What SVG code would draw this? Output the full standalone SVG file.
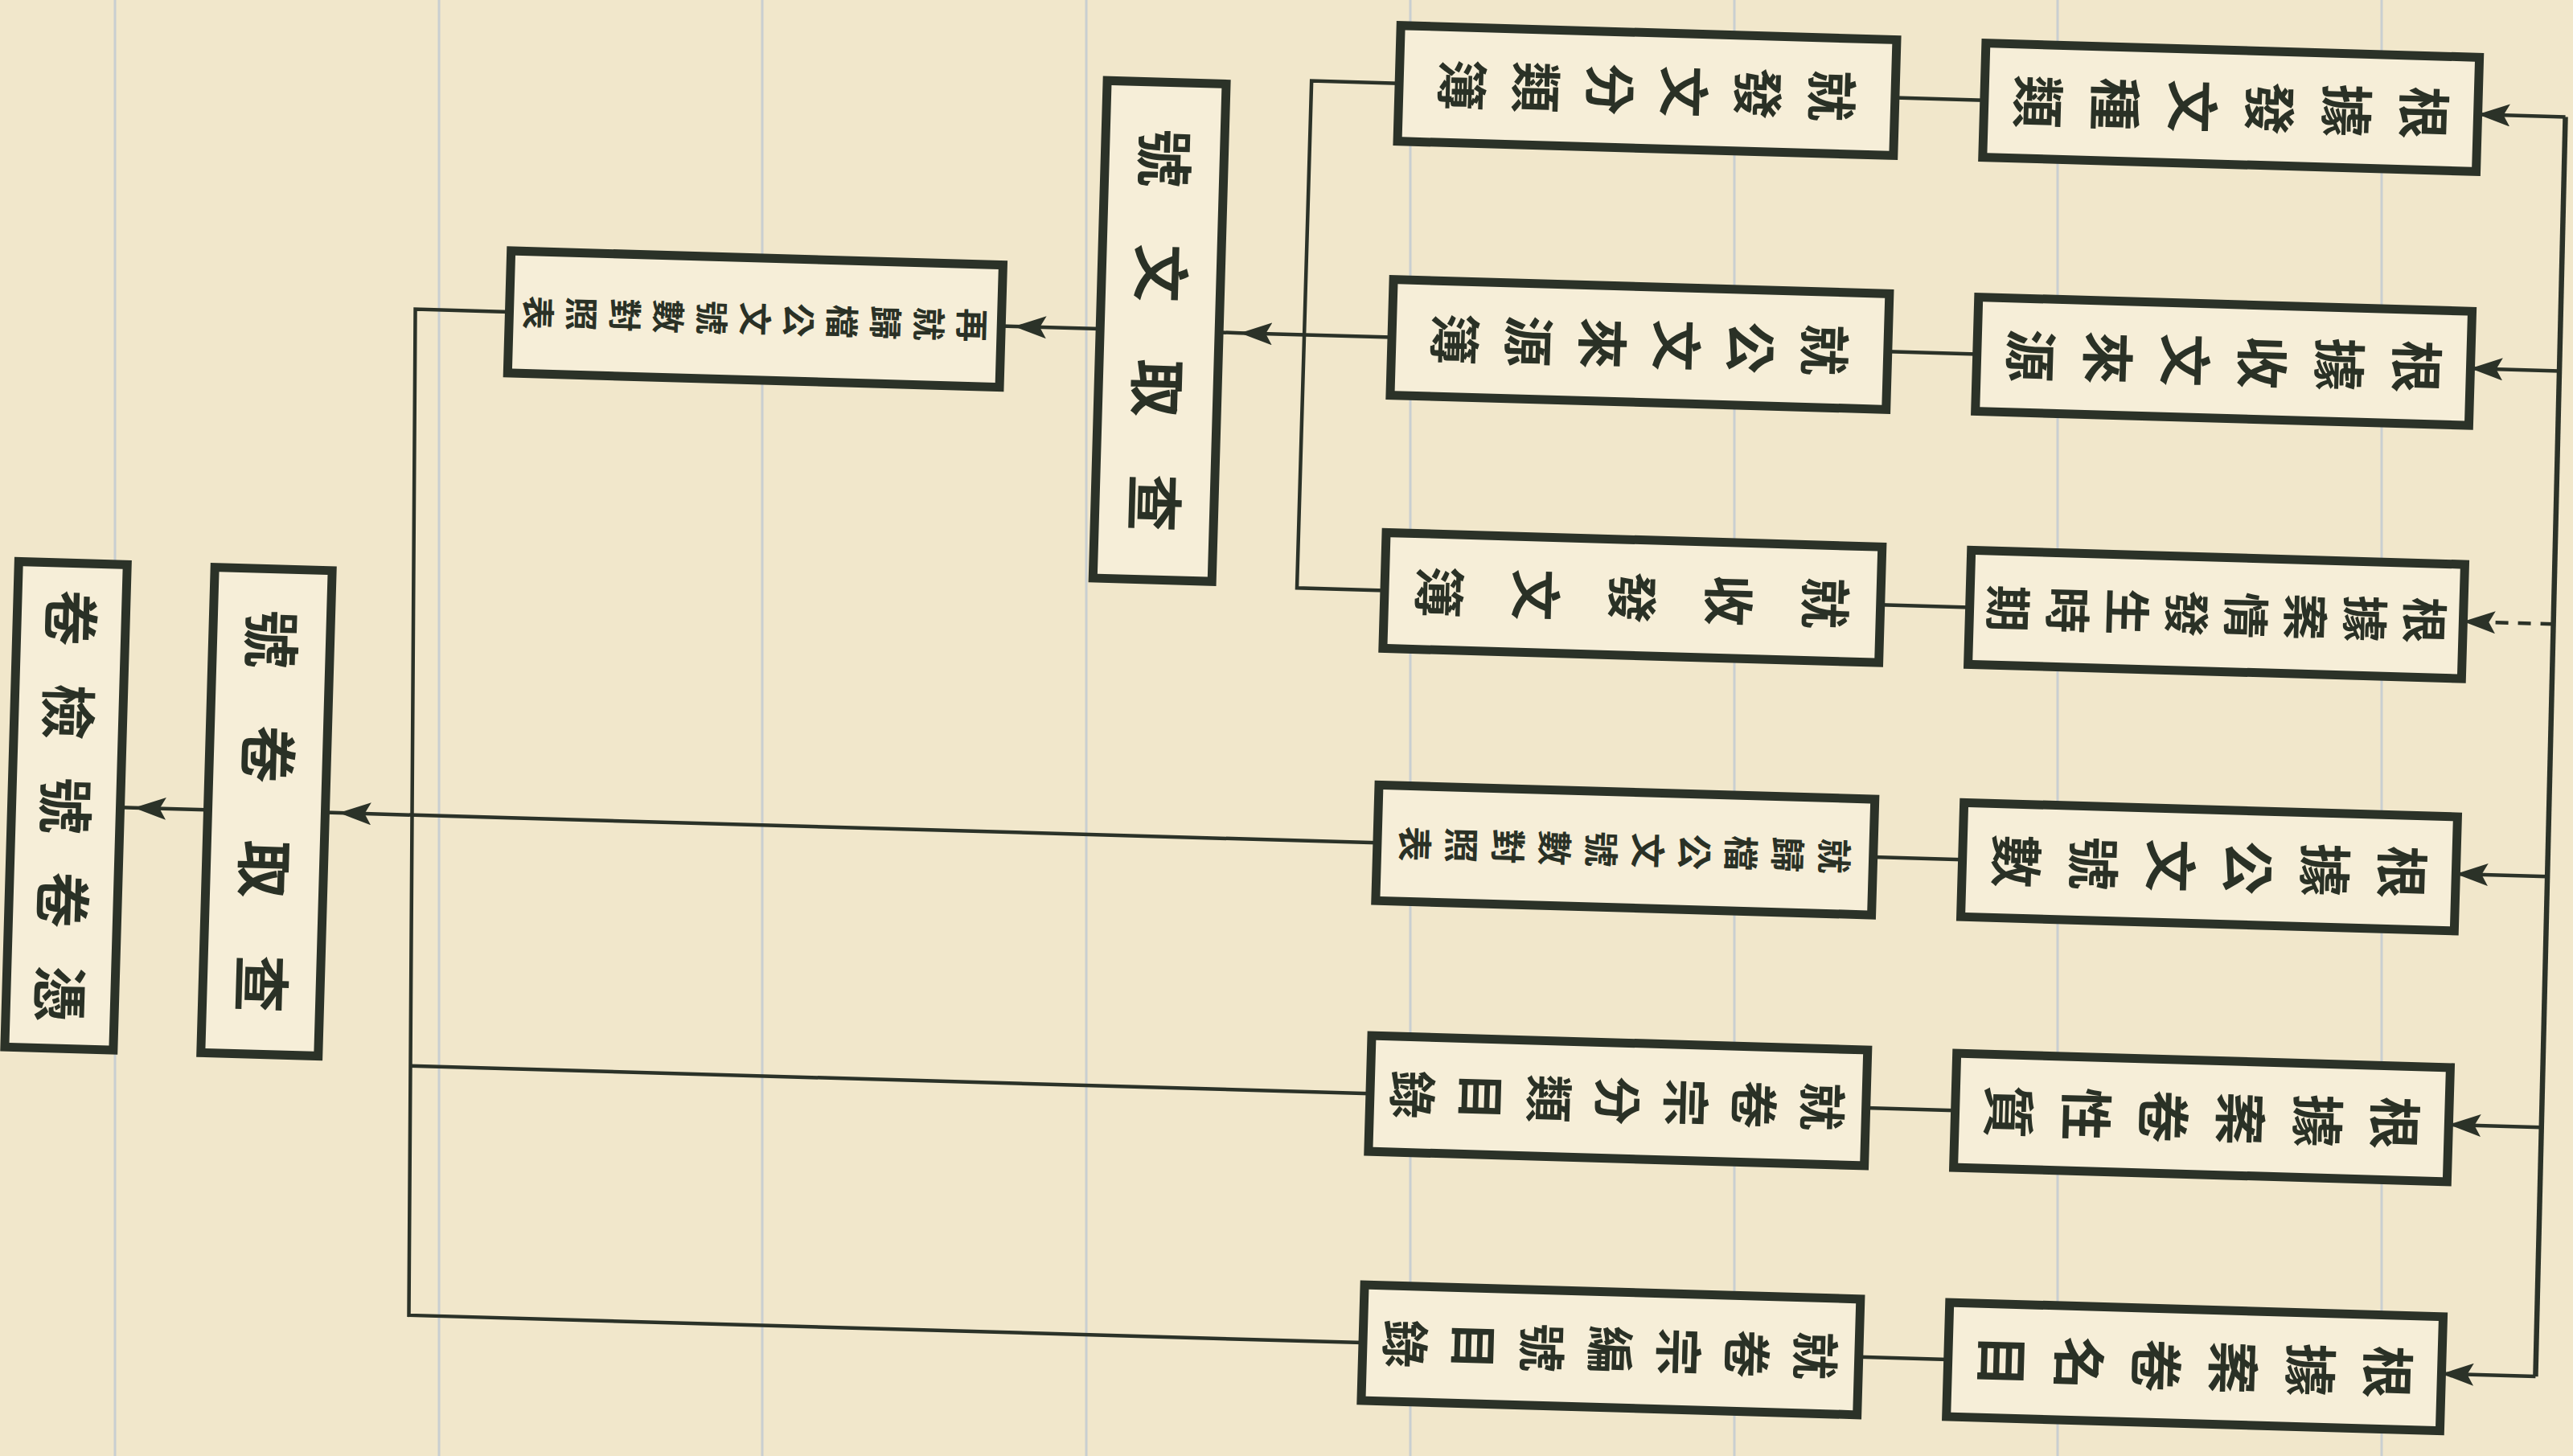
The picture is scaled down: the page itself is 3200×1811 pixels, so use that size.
<svg xmlns="http://www.w3.org/2000/svg" width="3200" height="1811" viewBox="0 0 3200 1811">
<style>
.box{fill:#f6eed8;stroke:#2b3228;stroke-width:11}
.ln{fill:none;stroke:#2b3228;stroke-width:4.5}
.trunk{fill:none;stroke:#2b3228;stroke-width:6.5}
.dash{stroke-dasharray:16 12}
.t{font-family:"Noto Sans CJK TC","Noto Sans CJK SC",sans-serif;font-weight:700;fill:#2a3126}
.rule{stroke:#a9bcd6;stroke-width:3;opacity:0.55}
</style>
<defs>
<marker id="ah" viewBox="0 0 40 28" refX="40" refY="14" markerWidth="40" markerHeight="28" markerUnits="userSpaceOnUse" orient="auto">
<path d="M0,0 L40,14 L0,28 L8,14 Z" fill="#2b3228"/>
</marker>
</defs>
<rect x="0" y="0" width="3200" height="1811" fill="#f1e7cb"/>
<g id="ruling">
<line class="rule" x1="143" y1="0" x2="143" y2="1811"/>
<line class="rule" x1="546" y1="0" x2="546" y2="1811"/>
<line class="rule" x1="948" y1="0" x2="948" y2="1811"/>
<line class="rule" x1="1351" y1="0" x2="1351" y2="1811"/>
<line class="rule" x1="1754" y1="0" x2="1754" y2="1811"/>
<line class="rule" x1="2157" y1="0" x2="2157" y2="1811"/>
<line class="rule" x1="2559" y1="0" x2="2559" y2="1811"/>
<line class="rule" x1="2962" y1="0" x2="2962" y2="1811"/>
</g>
<g transform="rotate(1.65 1600 905)">
<g id="connectors">
<path class="trunk" d="M3168,100 L3176,1667"/>
<path class="ln" d="M3168,100 H3059" marker-end="url(#ah)"/>
<path class="ln" d="M3169.6,416 H3059" marker-end="url(#ah)"/>
<path class="ln dash" d="M3171.2,731 H3059" marker-end="url(#ah)"/>
<path class="ln" d="M3172.8,1045 H3059" marker-end="url(#ah)"/>
<path class="ln" d="M3174.4,1357 H3059" marker-end="url(#ah)"/>
<path class="ln" d="M3176,1667 H3059" marker-end="url(#ah)"/>
<path class="ln" d="M2334,100 H2445"/>
<path class="ln" d="M2334,416 H2445"/>
<path class="ln" d="M2334,731 H2445"/>
<path class="ln" d="M2334,1045 H2445"/>
<path class="ln" d="M2334,1357 H2445"/>
<path class="ln" d="M2334,1667 H2445"/>
<path class="ln" d="M1717,100 H1608 V731 H1717"/>
<path class="ln" d="M1717,416 H1528 H1502" marker-mid="url(#ah)"/>
<path class="ln" d="M1354,416 H1247 H1231" marker-mid="url(#ah)"/>
<path class="ln" d="M619,416 H502 L530,1667 H1717"/>
<path class="ln" d="M523,1357 H1717"/>
<path class="ln" d="M1717,1045 H425 H408" marker-mid="url(#ah)"/>
<path class="ln" d="M262,1046 H170 H153" marker-mid="url(#ah)"/>
</g>
<g id="r1"><rect class="box" x="2445" y="29" width="614" height="142"/><text class="t" font-size="66" rotate="90" x="2967 2871 2775 2679 2583 2487" y="67">根據發文種類</text></g>
<g id="r2"><rect class="box" x="2445" y="345" width="614" height="142"/><text class="t" font-size="66" rotate="90" x="2967 2871 2775 2679 2583 2487" y="383">根據收文來源</text></g>
<g id="r3"><rect class="box" x="2445" y="660" width="614" height="142"/><text class="t" font-size="58" rotate="90" x="2989 2915 2841 2767 2693 2619 2545 2471" y="702">根據案情發生時期</text></g>
<g id="r4"><rect class="box" x="2445" y="974" width="614" height="142"/><text class="t" font-size="66" rotate="90" x="2967 2871 2775 2679 2583 2487" y="1012">根據公文號數</text></g>
<g id="r5"><rect class="box" x="2445" y="1286" width="614" height="142"/><text class="t" font-size="66" rotate="90" x="2967 2871 2775 2679 2583 2487" y="1324">根據案卷性質</text></g>
<g id="r6"><rect class="box" x="2445" y="1596" width="614" height="142"/><text class="t" font-size="66" rotate="90" x="2967 2871 2775 2679 2583 2487" y="1634">根據案卷名目</text></g>
<g id="m1"><rect class="box" x="1717" y="28" width="617" height="144"/><text class="t" font-size="64" rotate="90" x="2231 2139 2047 1955 1863 1771" y="68">就發文分類簿</text></g>
<g id="m2"><rect class="box" x="1717" y="344" width="617" height="144"/><text class="t" font-size="64" rotate="90" x="2231 2139 2047 1955 1863 1771" y="384">就公文來源簿</text></g>
<g id="m3"><rect class="box" x="1717" y="659" width="617" height="144"/><text class="t" font-size="64" rotate="90" x="2241 2121 2001 1881 1761" y="699">就收發文簿</text></g>
<g id="m4"><rect class="box" x="1717" y="973" width="617" height="144"/><text class="t" font-size="44" rotate="90" x="2269 2211 2153 2095 2037 1979 1921 1863 1805 1747" y="1023">就歸檔公文號數對照表</text></g>
<g id="m5"><rect class="box" x="1717" y="1285" width="617" height="144"/><text class="t" font-size="60" rotate="90" x="2257 2172 2087 2002 1917 1832 1747" y="1327">就卷宗分類目錄</text></g>
<g id="m6"><rect class="box" x="1717" y="1595" width="617" height="144"/><text class="t" font-size="60" rotate="90" x="2257 2172 2087 2002 1917 1832 1747" y="1637">就卷宗編號目錄</text></g>
<g id="t1"><rect class="box" x="1354" y="107" width="148" height="619"/><text class="t" font-size="72" rotate="90" x="1400.6 1400.6 1400.6 1400.6" y="165.5 308.5 451.5 594.5">號文取查</text></g>
<g id="s1"><rect class="box" x="619" y="340" width="612" height="152"/><text class="t" font-size="42" rotate="90" x="1179 1125 1071 1017 963 909 855 801 747 693 639" y="395">再就歸檔公文號數對照表</text></g>
<g id="q1"><rect class="box" x="262" y="744" width="146" height="604"/><text class="t" font-size="72" rotate="90" x="307.6 307.6 307.6 307.6" y="795.5 938.5 1081.5 1224.5">號卷取查</text></g>
<g id="f1"><rect class="box" x="18" y="744" width="135" height="604"/><text class="t" font-size="70" rotate="90" x="58.4 58.4 58.4 58.4 58.4" y="777 894 1011 1128 1245">卷檢號卷憑</text></g>
</g>
</svg>
